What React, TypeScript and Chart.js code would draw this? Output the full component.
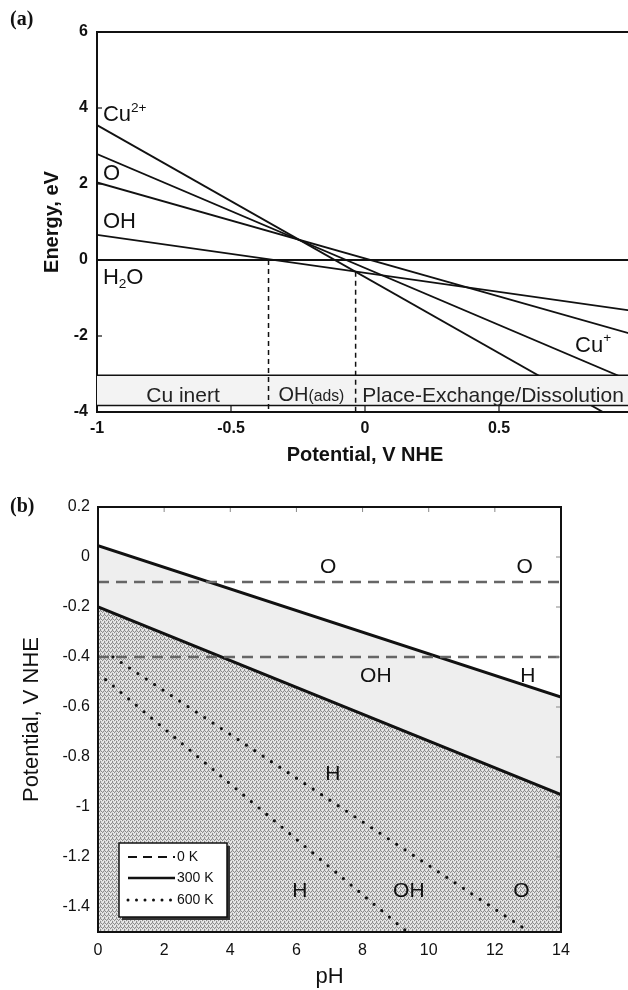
import React, { useEffect, useRef } from 'react';
import { Chart, registerables } from 'chart.js';

Chart.register(...registerables);

const FONT = "'Liberation Sans', Arial, sans-serif";
const INK = '#111';

// ---------------- Panel (a) data ----------------
const aPotentialTicks = [-1, -0.5, 0, 0.5, 1];
const aPotentialTickLabels = ['-1', '-0.5', '0', '0.5', '1'];
const aEnergyTicks = [-4, -2, 0, 2, 4, 6];
const aEnergyTickLabels = ['-4', '-2', '0', '2', '4', '6'];
const aPotentialEnds = [-1, 1];
const aLineCu2 = [3.55, -4.45];
const aLineO = [2.79, -3.21];
const aLineOH = [2.04, -1.96];
const aLineLow = [0.66, -1.34];
const aLineH2O = [0, 0];
const aDashInertX = -0.36;
const aDashInertE = [0, -4];
const aDashAdsX = -0.035;
const aDashAdsE = [-0.31, -4];
const aBandEnergy = [-3.03, -3.83];

type Part = [string, number, number];
const aSpeciesLabels: { parts: Part[]; x: number; y: number }[] = [
  { parts: [['Cu', 1, 0], ['2+', 0.62, -0.42]], x: -0.978, y: 3.66 },
  { parts: [['O', 1, 0]], x: -0.978, y: 2.1 },
  { parts: [['OH', 1, 0]], x: -0.978, y: 0.84 },
  { parts: [['H', 1, 0], ['2', 0.62, 0.22], ['O', 1, 0]], x: -0.978, y: -0.62 },
  { parts: [['Cu', 1, 0], ['+', 0.62, -0.45]], x: 0.784, y: -2.42 },
];
const aRegionLabels: { parts: Part[]; x: number; y: number }[] = [
  { parts: [['Cu inert', 1, 0]], x: -0.679, y: -3.73 },
  { parts: [['OH', 0.95, 0], ['(ads)', 0.75, 0]], x: -0.2, y: -3.7 },
  { parts: [['Place-Exchange/Dissolution', 1, 0]], x: 0.478, y: -3.73 },
];

// ---------------- Panel (b) data ----------------
const bPHTicks = [0, 2, 4, 6, 8, 10, 12, 14];
const bPHTickLabels = ['0', '2', '4', '6', '8', '10', '12', '14'];
const bPotTicks = [-1.4, -1.2, -1, -0.8, -0.6, -0.4, -0.2, 0, 0.2];
const bPotTickLabels = ['-1.4', '-1.2', '-1', '-0.8', '-0.6', '-0.4', '-0.2', '0', '0.2'];
const bPHEnds = [0, 14];
const bUpper300K = [0.045, -0.56];
const bLower300K = [-0.2, -0.95];
const bDashed0K = [-0.1, -0.4];
const bDotted600KA_pH = [0, 9.35];
const bDotted600KA_V = [-0.465, -1.5];
const bDotted600KB_pH = [0.45, 13.05];
const bDotted600KB_V = [-0.4, -1.5];
const bRegionLabels: { text: string; x: number; y: number }[] = [
  { text: 'O', x: 6.96, y: -0.064 },
  { text: 'O', x: 12.9, y: -0.064 },
  { text: 'OH', x: 8.4, y: -0.5 },
  { text: 'H', x: 13.0, y: -0.5 },
  { text: 'H', x: 7.1, y: -0.892 },
  { text: 'H', x: 6.1, y: -1.36 },
  { text: 'OH', x: 9.4, y: -1.36 },
  { text: 'O', x: 12.8, y: -1.36 },
];
const bLegendItems = ['0 K', '300 K', '600 K'];

function drawRich(ctx: CanvasRenderingContext2D, parts: Part[], x: number, y: number, size: number, align: string) {
  let total = 0;
  const widths = parts.map(([t, s]) => {
    ctx.font = `${size * s}px ${FONT}`;
    const w = ctx.measureText(t).width;
    total += w;
    return w;
  });
  let cx = align === 'center' ? x - total / 2 : x;
  ctx.textAlign = 'left';
  ctx.textBaseline = 'alphabetic';
  parts.forEach(([t, s, sh], i) => {
    ctx.font = `${size * s}px ${FONT}`;
    ctx.fillText(t, cx, y + sh * size);
    cx += widths[i];
  });
}

function makeStipple(): CanvasPattern | string {
  const c = document.createElement('canvas');
  c.width = 4;
  c.height = 4;
  const g = c.getContext('2d');
  if (!g) return '#c8c8c8';
  g.fillStyle = '#d8d8d8';
  g.fillRect(0, 0, 4, 4);
  g.fillStyle = '#8c8c8c';
  [[0, 0], [1, 1], [2, 2], [0, 3], [3, 1]].forEach(([px, py]) => g.fillRect(px, py, 1, 1));
  g.fillStyle = '#f0f0f0';
  [[2, 0], [3, 3], [1, 2]].forEach(([px, py]) => g.fillRect(px, py, 1, 1));
  return g.createPattern(c, 'repeat') || '#c8c8c8';
}

const seg = (xs: number[], ys: number[]) => xs.map((x, i) => ({ x, y: ys[i] }));

const panelAPlugin = {
  id: 'panelA',
  afterDatasetDraw(chart: any, args: any) {
    if (args.index !== 2) return;
    const { ctx, chartArea: ca, scales } = chart;
    const y = scales.y;
    const yTop = y.getPixelForValue(aBandEnergy[0]);
    const yBot = y.getPixelForValue(aBandEnergy[1]);
    ctx.save();
    ctx.fillStyle = '#f3f3f3';
    ctx.fillRect(ca.left, yTop, ca.right - ca.left, yBot - yTop);
    ctx.strokeStyle = INK;
    ctx.lineWidth = 1.5;
    ctx.beginPath();
    ctx.moveTo(ca.left, yTop);
    ctx.lineTo(ca.right, yTop);
    ctx.moveTo(ca.left, yBot);
    ctx.lineTo(ca.right, yBot);
    ctx.stroke();
    ctx.restore();
  },
  afterDraw(chart: any) {
    const { ctx, chartArea: ca, scales } = chart;
    const x = scales.x;
    const y = scales.y;
    ctx.save();
    ctx.strokeStyle = INK;
    ctx.lineWidth = 2;
    ctx.beginPath();
    ctx.moveTo(ca.left, ca.top);
    ctx.lineTo(ca.right + 2, ca.top);
    ctx.stroke();
    ctx.lineWidth = 1.2;
    aEnergyTicks.forEach((v) => {
      const py = y.getPixelForValue(v);
      ctx.beginPath();
      ctx.moveTo(ca.left, py);
      ctx.lineTo(ca.left + 5, py);
      ctx.stroke();
    });
    aPotentialTicks.forEach((v) => {
      const px = x.getPixelForValue(v);
      ctx.beginPath();
      ctx.moveTo(px, ca.bottom);
      ctx.lineTo(px, ca.bottom - 6);
      ctx.stroke();
    });
    ctx.fillStyle = INK;
    aSpeciesLabels.forEach((l) => drawRich(ctx, l.parts, x.getPixelForValue(l.x), y.getPixelForValue(l.y), 22, 'left'));
    ctx.fillStyle = '#222';
    aRegionLabels.forEach((l) => drawRich(ctx, l.parts, x.getPixelForValue(l.x), y.getPixelForValue(l.y), 21, 'center'));
    ctx.restore();
  },
};

const panelBPlugin = {
  id: 'panelB',
  afterDraw(chart: any) {
    const { ctx, chartArea: ca, scales } = chart;
    const x = scales.x;
    const y = scales.y;
    ctx.save();
    // inner ticks
    ctx.strokeStyle = '#888';
    ctx.lineWidth = 1;
    bPHTicks.forEach((v) => {
      const px = x.getPixelForValue(v);
      ctx.beginPath();
      ctx.moveTo(px, ca.top);
      ctx.lineTo(px, ca.top + 5);
      ctx.stroke();
    });
    bPotTicks.forEach((v) => {
      const py = y.getPixelForValue(v);
      ctx.beginPath();
      ctx.moveTo(ca.right, py);
      ctx.lineTo(ca.right - 5, py);
      ctx.stroke();
    });
    // frame
    ctx.strokeStyle = INK;
    ctx.lineWidth = 2;
    ctx.strokeRect(ca.left, ca.top, ca.right - ca.left, ca.bottom - ca.top);
    // region labels
    ctx.fillStyle = INK;
    bRegionLabels.forEach((l) => drawRich(ctx, [[l.text, 1, 0]], x.getPixelForValue(l.x), y.getPixelForValue(l.y), 21, 'center'));
    // legend
    const lx = ca.left + 21;
    const ly = ca.top + 336;
    const lw = 108;
    const lh = 74;
    ctx.fillStyle = '#333';
    ctx.fillRect(lx + 3, ly + 3, lw, lh);
    ctx.fillStyle = '#fff';
    ctx.fillRect(lx, ly, lw, lh);
    ctx.strokeStyle = INK;
    ctx.lineWidth = 1.5;
    ctx.strokeRect(lx, ly, lw, lh);
    const rows = [14, 35, 57];
    const styles = [
      { dash: [9, 6], width: 2, cap: 'butt' },
      { dash: [], width: 2.5, cap: 'butt' },
      { dash: [0, 8.5], width: 3, cap: 'round' },
    ];
    bLegendItems.forEach((label, i) => {
      const ry = ly + rows[i];
      ctx.strokeStyle = INK;
      ctx.lineWidth = styles[i].width;
      ctx.lineCap = styles[i].cap as CanvasLineCap;
      ctx.setLineDash(styles[i].dash);
      ctx.beginPath();
      ctx.moveTo(lx + 9, ry);
      ctx.lineTo(lx + 56, ry);
      ctx.stroke();
      ctx.setLineDash([]);
      ctx.fillStyle = INK;
      ctx.font = `14px ${FONT}`;
      ctx.textAlign = 'left';
      ctx.textBaseline = 'middle';
      ctx.fillText(label, lx + 58, ry);
    });
    ctx.restore();
  },
};

function configA(): any {
  const solid = (ys: number[]) => ({
    data: seg(aPotentialEnds, ys),
    borderColor: INK,
    borderWidth: 1.8,
    pointRadius: 0,
    fill: false,
  });
  return {
    type: 'line',
    data: {
      datasets: [
        { data: seg([aDashInertX, aDashInertX], aDashInertE), borderColor: INK, borderWidth: 1.5, borderDash: [5, 4], pointRadius: 0, fill: false },
        { data: seg([aDashAdsX, aDashAdsX], aDashAdsE), borderColor: INK, borderWidth: 1.5, borderDash: [5, 4], pointRadius: 0, fill: false },
        solid(aLineCu2),
        solid(aLineO),
        solid(aLineOH),
        solid(aLineLow),
        solid(aLineH2O),
      ],
    },
    options: {
      responsive: false,
      animation: false,
      devicePixelRatio: 1,
      layout: { padding: { left: 0, top: 32, right: 27, bottom: 0 } },
      plugins: { legend: { display: false }, tooltip: { enabled: false } },
      scales: {
        x: {
          type: 'linear',
          min: -1,
          max: 1,
          afterBuildTicks: (s: any) => {
            s.ticks = aPotentialTicks.map((v) => ({ value: v }));
          },
          afterFit: (s: any) => {
            s.height = 58;
          },
          ticks: {
            autoSkip: false,
            maxRotation: 0,
            padding: 7,
            color: INK,
            font: { family: FONT, weight: 'bold', size: 16 },
            callback: (_v: any, i: number) => aPotentialTickLabels[i],
          },
          grid: { display: true, drawOnChartArea: false, drawTicks: false },
          border: { display: true, color: INK, width: 2 },
          title: { display: true, text: 'Potential, V NHE', color: INK, font: { family: FONT, weight: 'bold', size: 20 }, padding: { top: 0, bottom: 3 } },
        },
        y: {
          type: 'linear',
          min: -4,
          max: 6,
          afterBuildTicks: (s: any) => {
            s.ticks = aEnergyTicks.map((v) => ({ value: v }));
          },
          afterFit: (s: any) => {
            s.width = 97;
          },
          ticks: {
            autoSkip: false,
            padding: 9,
            color: INK,
            font: { family: FONT, weight: 'bold', size: 16 },
            callback: (_v: any, i: number) => aEnergyTickLabels[i],
          },
          grid: { display: true, drawOnChartArea: false, drawTicks: false },
          border: { display: true, color: INK, width: 2 },
          title: { display: true, text: 'Energy, eV', color: INK, font: { family: FONT, weight: 'bold', size: 20 }, padding: { top: 40, bottom: 0 } },
        },
      },
    },
    plugins: [panelAPlugin],
  };
}

function configB(): any {
  const stipple = makeStipple();
  return {
    type: 'line',
    data: {
      datasets: [
        { data: seg(bPHEnds, [bDashed0K[0], bDashed0K[0]]), borderColor: '#666', borderWidth: 2.5, borderDash: [11, 7], pointRadius: 0, fill: false },
        { data: seg(bPHEnds, [bDashed0K[1], bDashed0K[1]]), borderColor: '#666', borderWidth: 2.5, borderDash: [11, 7], pointRadius: 0, fill: false },
        { data: seg(bDotted600KA_pH, bDotted600KA_V), borderColor: INK, borderWidth: 3.2, borderDash: [0, 10], borderCapStyle: 'round', pointRadius: 0, fill: false },
        { data: seg(bDotted600KB_pH, bDotted600KB_V), borderColor: INK, borderWidth: 3.2, borderDash: [0, 10], borderCapStyle: 'round', pointRadius: 0, fill: false },
        { data: seg(bPHEnds, bUpper300K), borderColor: INK, borderWidth: 3, pointRadius: 0, fill: '+1', backgroundColor: '#eeeeee' },
        { data: seg(bPHEnds, bLower300K), borderColor: INK, borderWidth: 3, pointRadius: 0, fill: 'start', backgroundColor: stipple },
      ],
    },
    options: {
      responsive: false,
      animation: false,
      devicePixelRatio: 1,
      layout: { padding: { left: 0, top: 37, right: 67, bottom: 0 } },
      plugins: { legend: { display: false }, tooltip: { enabled: false }, filler: { drawTime: 'beforeDatasetsDraw' } },
      scales: {
        x: {
          type: 'linear',
          min: 0,
          max: 14,
          afterBuildTicks: (s: any) => {
            s.ticks = bPHTicks.map((v) => ({ value: v }));
          },
          afterFit: (s: any) => {
            s.height = 58;
          },
          ticks: {
            autoSkip: false,
            maxRotation: 0,
            padding: 9,
            color: INK,
            font: { family: FONT, size: 16 },
            callback: (_v: any, i: number) => bPHTickLabels[i],
          },
          grid: { display: true, drawOnChartArea: false, drawTicks: false },
          border: { display: true, color: INK, width: 2 },
          title: { display: true, text: 'pH', color: INK, font: { family: FONT, size: 22 }, padding: { top: 0, bottom: 0 } },
        },
        y: {
          type: 'linear',
          min: -1.5,
          max: 0.2,
          afterBuildTicks: (s: any) => {
            s.ticks = bPotTicks.map((v) => ({ value: v }));
          },
          afterFit: (s: any) => {
            s.width = 98;
          },
          ticks: {
            autoSkip: false,
            padding: 8,
            color: INK,
            font: { family: FONT, size: 16 },
            callback: (_v: any, i: number) => bPotTickLabels[i],
          },
          grid: { display: true, drawOnChartArea: false, drawTicks: false },
          border: { display: true, color: INK, width: 2 },
          title: { display: true, text: 'Potential, V NHE', color: INK, font: { family: FONT, size: 22 }, padding: { top: 19, bottom: 0 } },
        },
      },
    },
    plugins: [panelBPlugin],
  };
}

export default function App() {
  const refA = useRef<HTMLCanvasElement>(null);
  const refB = useRef<HTMLCanvasElement>(null);
  useEffect(() => {
    const ca = new Chart(refA.current as HTMLCanvasElement, configA());
    const cb = new Chart(refB.current as HTMLCanvasElement, configB());
    return () => {
      ca.destroy();
      cb.destroy();
    };
  }, []);
  const panelLabel: React.CSSProperties = {
    position: 'absolute',
    left: 10,
    fontFamily: "'Liberation Serif', 'Times New Roman', serif",
    fontWeight: 'bold',
    fontSize: 20,
    lineHeight: '24px',
    color: INK,
  };
  return (
    <div style={{ position: 'fixed', left: 0, top: 0, width: 628, height: 990, overflow: 'hidden', background: '#fff' }}>
      <canvas ref={refA} width={660} height={470} style={{ position: 'absolute', left: 0, top: 0, width: 660, height: 470 }} />
      <canvas ref={refB} width={628} height={520} style={{ position: 'absolute', left: 0, top: 470, width: 628, height: 520 }} />
      <div style={{ ...panelLabel, top: 6 }}>(a)</div>
      <div style={{ ...panelLabel, top: 493 }}>(b)</div>
    </div>
  );
}
